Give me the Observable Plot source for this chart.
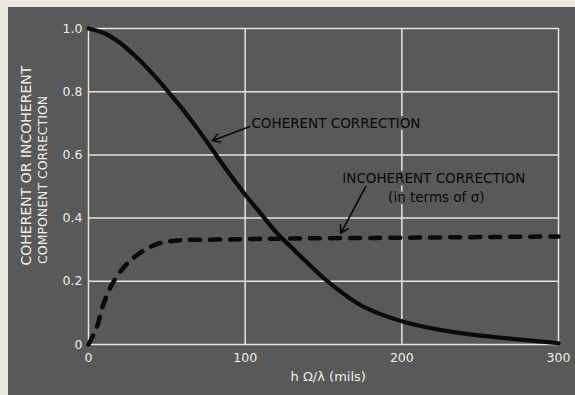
<!DOCTYPE html>
<html>
<head>
<meta charset="utf-8">
<script src="https://cdn.jsdelivr.net/npm/d3@7"></script>
<script src="https://cdn.jsdelivr.net/npm/@observablehq/plot@0.6"></script>
<style>
  html, body { margin: 0; padding: 0; background: #ebe8e0; }
  #wrap { padding: 7px 0 0 8px; width: 567px; height: 388px; }
  #wrap svg { display: block; }
</style>
</head>
<body>
<div id="wrap"></div>
<script>
// Coherent correction (solid curve)
const coherentX = [0, 10, 20, 30, 40, 50, 60, 70, 80, 90, 100, 110, 120, 130, 140, 152.6, 175, 201, 233, 266, 300];
const coherentY = [1.0, 0.985, 0.955, 0.912, 0.862, 0.805, 0.745, 0.68, 0.61, 0.54, 0.474, 0.414, 0.354, 0.305, 0.257, 0.2, 0.121, 0.072, 0.039, 0.02, 0.004];

// Incoherent correction (dashed curve)
const incoherentX = [0, 5.5, 9, 15, 23.6, 33, 45, 59, 83, 120, 200, 300];
const incoherentY = [0, 0.057, 0.12, 0.19, 0.25, 0.29, 0.32, 0.33, 0.332, 0.335, 0.338, 0.342];

// Axes
const xTicks = [0, 100, 200, 300];
const xTickLabels = ["0", "100", "200", "300"];
const yTicks = [0, 0.2, 0.4, 0.6, 0.8, 1.0];
const yTickLabels = ["0", "0.2", "0.4", "0.6", "0.8", "1.0"];

const xLabel = "h Ω/λ (mils)";
const yLabelLines = ["COHERENT OR INCOHERENT", "COMPONENT CORRECTION"];
const coherentLabel = "COHERENT CORRECTION";
const incoherentLabel = "INCOHERENT CORRECTION";
const incoherentSub = "(in terms of σ)";

const coherent = coherentX.map((x, i) => ({x, y: coherentY[i]}));
const incoherent = incoherentX.map((x, i) => ({x, y: incoherentY[i]}));

const BG = "#595959";
const GRID = "#e6e4df";
const TXT = "#eeeeea";
const INK = "#0a0a0a";
const FONT = "'DejaVu Sans', sans-serif";

const chart = Plot.plot({
  width: 567,
  height: 388,
  marginLeft: 80,
  marginRight: 17,
  marginTop: 21,
  marginBottom: 51,
  style: {background: BG, color: TXT, fontFamily: FONT, fontSize: "12px"},
  x: {domain: [0, 300]},
  y: {domain: [0, 1]},
  marks: [
    Plot.ruleY(yTicks, {stroke: GRID, strokeWidth: 1.5}),
    Plot.ruleX(xTicks, {stroke: GRID, strokeWidth: 1.5}),
    Plot.axisX({ticks: xTicks, tickSize: 0, tickPadding: 9, label: null, fontSize: 12.5,
      tickFormat: (d) => xTickLabels[xTicks.indexOf(d)]}),
    Plot.axisY({ticks: yTicks, tickSize: 0, tickPadding: 6, label: null, fontSize: 12.5,
      tickFormat: (d) => yTickLabels[yTicks.indexOf(d)]}),
    Plot.text([xLabel], {frameAnchor: "bottom", x: () => 153, dy: 36, fill: TXT, fontSize: 13, text: (d) => d}),
    Plot.text([yLabelLines[0]], {frameAnchor: "left", y: () => 0.25, dx: -62, rotate: -90, textAnchor: "start", fill: TXT, fontSize: 14, text: (d) => d}),
    Plot.text([yLabelLines[1]], {frameAnchor: "left", y: () => 0.255, dx: -46, rotate: -90, textAnchor: "start", fill: TXT, fontSize: 12.5, text: (d) => d}),
    Plot.line(incoherent, {x: "x", y: "y", curve: "catmull-rom", stroke: INK, strokeWidth: 4.5, strokeDasharray: "10,10", strokeLinecap: "round"}),
    Plot.line(coherent, {x: "x", y: "y", curve: "catmull-rom", stroke: INK, strokeWidth: 4.2, strokeLinecap: "round"}),
    Plot.text([coherentLabel], {x: () => 104, y: () => 0.70, textAnchor: "start", fill: INK, stroke: BG, strokeWidth: 5, fontSize: 13.5, text: (d) => d}),
    Plot.arrow([0], {x1: () => 103, y1: () => 0.69, x2: () => 79, y2: () => 0.645, stroke: INK, strokeWidth: 1.6, headLength: 8}),
    Plot.text([incoherentLabel], {x: () => 162, y: () => 0.525, textAnchor: "start", fill: INK, stroke: BG, strokeWidth: 5, fontSize: 13.5, text: (d) => d}),
    Plot.text([incoherentSub], {x: () => 222, y: () => 0.466, textAnchor: "middle", fill: INK, stroke: BG, strokeWidth: 5, fontSize: 13.5, text: (d) => d}),
    Plot.arrow([0], {x1: () => 177, y1: () => 0.50, x2: () => 161, y2: () => 0.352, stroke: INK, strokeWidth: 1.6, headLength: 8})
  ]
});
document.getElementById("wrap").appendChild(chart);
</script>
</body>
</html>
